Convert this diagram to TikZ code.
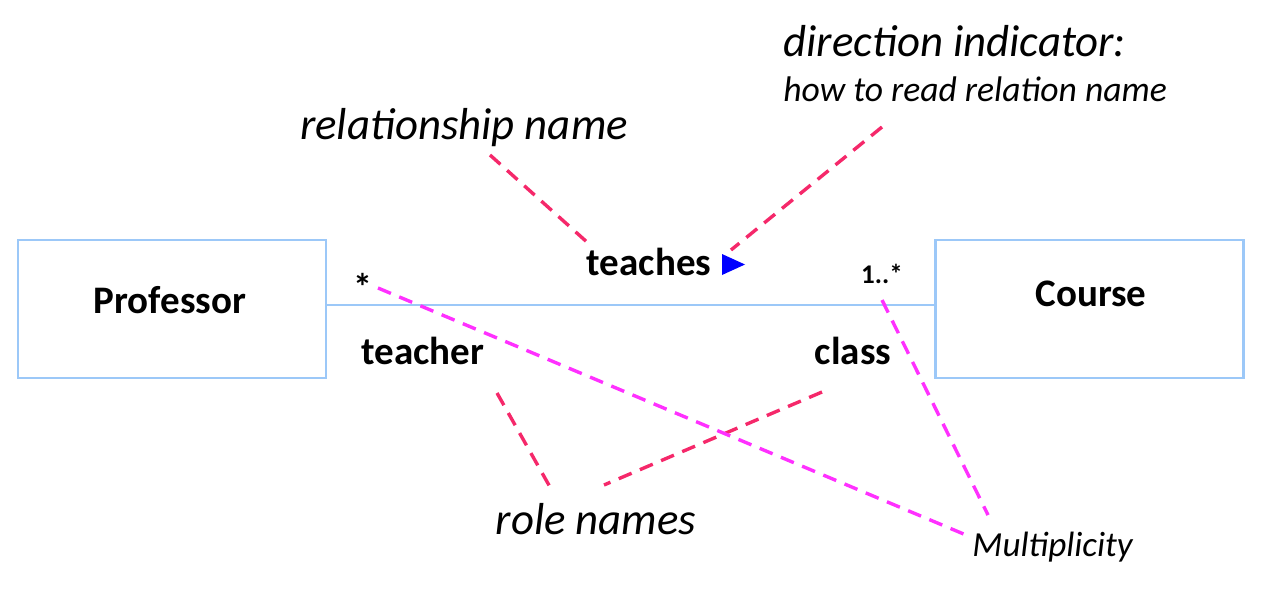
\documentclass[tikz,border=0pt]{standalone}
\usepackage{fontspec}
\setmainfont{Carlito}
\begin{document}
\begin{tikzpicture}[x=0.5pt,y=-0.5pt,
  umlbox/.style={draw=boxblue,line width=1.2pt,minimum width=154pt,minimum height=69pt,inner sep=0pt},
  bold/.style={font=\fontsize{19.5}{22}\selectfont\bfseries,inner sep=0pt},
  note/.style={font=\fontsize{22.4}{26}\selectfont\itshape,inner sep=0pt},
  rolelink/.style={draw=rolepink,dash pattern=on 7pt off 4.5pt,line width=1.7pt},
  multlink/.style={draw=multmag,dash pattern=on 7pt off 4.5pt,line width=1.7pt}]
\definecolor{boxblue}{HTML}{9CC8F8}
\definecolor{rolepink}{HTML}{F5286A}
\definecolor{multmag}{HTML}{FF30FF}
\useasboundingbox (0,0) rectangle (1278,599);
% classes
\node[umlbox] (prof) at (172,309) {};
\node[bold] (proft) at (170,300) {Professor};
\node[umlbox] (course) at (1089.5,309) {};
\node[bold] (courset) at (1091,294) {Course};
\draw[boxblue,line width=1.2pt] (prof.east |- 0,305) coordinate (a1) -- (course.west |- 0,305) coordinate (a2);
% labels on association
\node[bold,anchor=base] (teaches) at (649,275) {teaches};
\fill[blue] (722,254) -- (745,264.5) -- (722,275) -- cycle;
\coordinate (tri) at (731,250);
\node[bold,font=\fontsize{19}{20}\selectfont\bfseries,anchor=base] (star) at (363,300) {*};
\node[bold,font=\fontsize{13.5}{16}\selectfont\bfseries,anchor=base] (mult) at (882,283) {1..*};
\node[bold,anchor=base] (teacher) at (423,364) {teacher};
\node[bold,anchor=base] (class) at (853,364) {class};
% annotations
\node[note,anchor=base] (relname) at (464,140) {relationship name};
\node[note,anchor=base west] (dir) at (783,57) {direction indicator:};
\node[note,font=\fontsize{17.8}{20}\selectfont\itshape,anchor=base west] (dir2) at (783,102) {how to read relation name};
\node[note,anchor=base] (roles) at (596,534) {role names};
\node[note,font=\fontsize{17.6}{20}\selectfont\itshape,anchor=base west] (multn) at (972,556) {Multiplicity};
% connectors
\coordinate (r1) at (490,155);
\coordinate (r2) at (588,243);
\draw[rolelink] (r1) -- (r2);
\coordinate (d1) at (882,127);
\draw[rolelink] (d1) -- (tri);
\coordinate (t1) at (497,393);
\coordinate (t2) at (550,487);
\draw[rolelink] (t1) -- (t2);
\coordinate (c1) at (822,392);
\coordinate (c2) at (604,485);
\draw[rolelink] (c1) -- (c2);
\coordinate (m1) at (378,288);
\coordinate (m2) at (966,535);
\draw[multlink] (m1) -- (m2);
\coordinate (m3) at (882,300);
\coordinate (m4) at (988,515);
\draw[multlink] (m3) -- (m4);
\end{tikzpicture}
\end{document}
